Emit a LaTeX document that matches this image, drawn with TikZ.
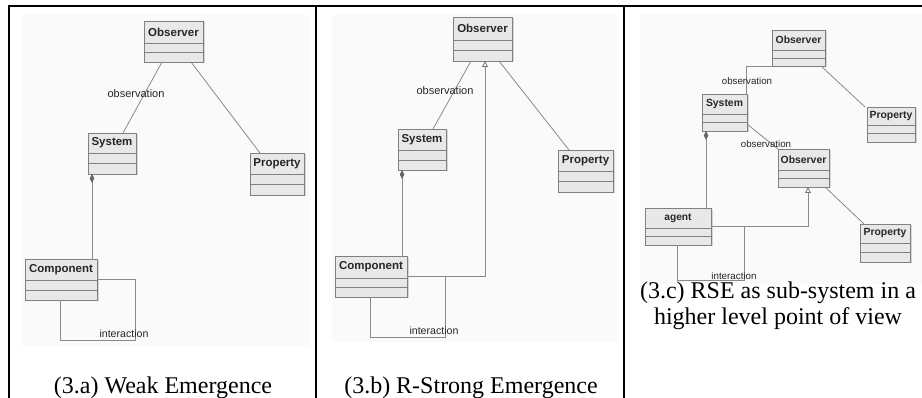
\documentclass[tikz,border=0pt]{standalone}
\usepackage{fontspec}
\setmainfont{Liberation Serif}
\setsansfont{Liberation Sans}
\usetikzlibrary{calc,arrows.meta,shadows}
\definecolor{boxfill}{HTML}{E8E8E8}
\definecolor{boxline}{HTML}{808080}
\definecolor{connline}{HTML}{8A8A8A}
\definecolor{panelbg}{HTML}{FAFAFA}
\tikzset{
  umlbox/.style={draw=boxline, fill=boxfill, line width=0.8pt, inner sep=0pt, outer sep=0pt,
    drop shadow={shadow xshift=1.5pt, shadow yshift=-1.5pt, fill=black!25, opacity=0.6}},
  compline/.style={draw=boxline, line width=0.6pt},
  conn/.style={draw=connline, line width=0.8pt},
  comp/.style={conn, {Diamond[length=9pt,width=4.5pt,fill=black!60,color=black!60]}-},
  gen/.style={conn, -{Triangle[open,length=6pt,width=6pt,fill=white,color=black!55]}},
  lbl/.style={font=\fontsize{#1}{#1}\sffamily, text=black!85, inner sep=0pt},
  caption/.style={font=\fontsize{24}{26}\selectfont, anchor=base, inner sep=0pt},
  frame/.style={line width=2.4pt, draw=black},
}
\newcommand{\umlcls}[8]{%
  \node[umlbox, minimum width=#4pt, minimum height=#5pt] (#1) at (#2,#3) {};
  \path (#1.north west) ++(0,#6) coordinate (#1-a) ++(0,{(#5-#6)/2}) coordinate (#1-b);
  \draw[compline] (#1-a) -- ++(#4,0);
  \draw[compline] (#1-b) -- ++(#4,0);
  \node[font=\fontsize{#7}{#7}\sffamily\bfseries, text=black!85, inner sep=0pt] (#1-t) at ($(#1.north)+(0,{#6/2})$) {#8};
}
\begin{document}
\begin{tikzpicture}[x=1pt,y=-1pt]
\path[fill=white] (0,0) rectangle (922,398);
\useasboundingbox (0,0) rectangle (922,398);
% panel backgrounds
\fill[panelbg] (22,15) rectangle (310,347);
\fill[panelbg] (332,15) rectangle (619,342);
\fill[panelbg] (640,15) rectangle (922,284);
% frame
\draw[frame] (9,398) -- (9,6) -- (922,6);
\draw[frame] (316,6) -- (316,398);
\draw[frame] (624,6) -- (624,398);

% ---------- panel a ----------
\umlcls{obsA}{173.5}{41.5}{59}{41}{22}{11.5}{Observer}
\umlcls{sysA}{112}{153.5}{48}{41}{20}{11.5}{System}
\umlcls{propA}{277}{174}{54}{42}{21}{11.5}{Property}
\umlcls{compA}{61}{279.5}{72}{41}{21}{11.5}{Component}
\draw[conn] ($(obsA.south west)+(18,0)$) -- ($(sysA.north west)+(35,0)$);
\draw[conn] ($(obsA.south west)+(47,0)$) -- ($(propA.north west)+(10,0)$);
\draw[comp] ($(sysA.south west)+(4,0)$) -- ($(compA.north west)+(67,0)$);
\draw[conn] ($(compA.north east)+(0,20)$) -- ++(38,0) -- ++(0,61) -| ($(compA.south west)+(35,0)$);
\node[lbl=11] (obslA) at (136,94) {observation};
\node[lbl=10.6] (intlA) at (124,334) {interaction};
\node[caption] (capA) at (163,393) {(3.a) Weak Emergence};

% ---------- panel b ----------
\umlcls{obsB}{482.5}{39}{59}{44}{23}{11.5}{Observer}
\umlcls{sysB}{422}{149.5}{48}{41}{21}{11.5}{System}
\umlcls{propB}{585.5}{171}{55}{42}{21}{11.5}{Property}
\umlcls{compB}{371}{276.5}{72}{41}{22}{11.5}{Component}
\draw[conn] ($(obsB.south west)+(18,0)$) -- ($(sysB.north west)+(35,0)$);
\draw[conn] ($(obsB.south west)+(46,0)$) -- ($(propB.north west)+(11,0)$);
\draw[comp] ($(sysB.south west)+(4,0)$) -- ($(compB.north west)+(67,0)$);
\draw[gen] ($(compB.north east)+(0,20)$) -| ($(obsB.south west)+(32,0)$);
\draw[conn] ($(compB.north east)+(38,20)$) -- ++(0,61) -| ($(compB.south west)+(35,0)$);
\node[lbl=11] (obslB) at (445,91) {observation};
\node[lbl=10.6] (intlB) at (434,331) {interaction};
\node[caption] (capB) at (471,393) {(3.b) R-Strong Emergence};

% ---------- panel c ----------
\umlcls{obsC}{798.5}{48}{53}{36}{20}{10.4}{Observer}
\umlcls{propC}{891}{124.5}{48}{35}{18}{10.4}{Property}
\umlcls{sysC}{724.5}{112.5}{45}{37}{20}{10.4}{System}
\umlcls{obsD}{803.5}{168}{51}{38}{21}{10.4}{Observer}
\umlcls{agC}{678}{226.5}{66}{37}{20}{10.2}{agent}
\umlcls{propD}{885}{243}{50}{38}{19}{10.4}{Property}
\draw[conn] (obsC.south west) -| ($(sysC.north east)+(-1,0)$);
\draw[conn] ($(obsC.south west)+(49,0)$) -- ($(propC.north west)+(-2,0)$);
\draw[conn] ($(sysC.north east)+(0,30)$) -- (obsD.north west);
\draw[conn] ($(obsD.south west)+(47,0)$) -- ($(propD.north west)+(4,0)$);
\draw[comp] ($(sysC.south west)+(4,0)$) -- ($(agC.north west)+(61,0)$);
\draw[gen] ($(agC.north east)+(0,18)$) -| ($(obsD.south west)+(30,0)$);
\draw[conn] ($(agC.north east)+(33,18)$) -- ++(0,54) -| ($(agC.south west)+(32,0)$);
\node[lbl=9.7] (obslC) at (747,81) {observation};
\node[lbl=9.7] (obslD) at (766,144) {observation};
\node[lbl=9.8] (intlC) at (734,276) {interaction};
\node[caption] (capC1) at (778,299) {(3.c) RSE as sub-system in a};
\node[caption] (capC2) at (778,325) {higher level point of view};
\end{tikzpicture}
\end{document}
